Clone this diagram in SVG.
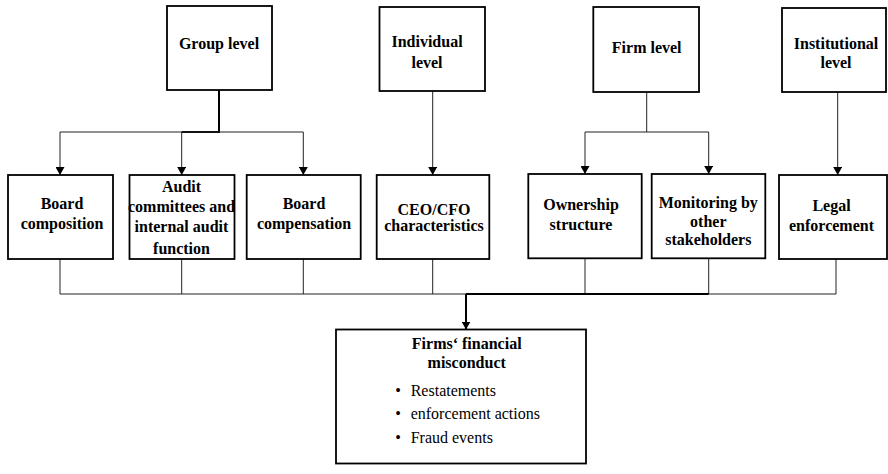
<svg xmlns="http://www.w3.org/2000/svg" width="888" height="474" viewBox="0 0 888 474">
<defs>
<style>
.t{font-family:'Liberation Serif','DejaVu Serif',serif;font-weight:bold;font-size:16px;text-anchor:middle;fill:#000}
.r{font-family:'Liberation Serif','DejaVu Serif',serif;font-size:16px;fill:#000}
.box{fill:#fff;stroke:#000;stroke-width:1.8}
.c{fill:none;stroke:#222;stroke-width:1}
.ck{fill:none;stroke:#000;stroke-width:2}
</style>
<marker id="arr" markerUnits="userSpaceOnUse" markerWidth="8" markerHeight="9" refX="8" refY="4.5" orient="auto">
<path d="M0,0 L8,4.5 L0,9 z" fill="#000"/>
</marker>
</defs>
<rect width="888" height="474" fill="#fff"/>

<g id="connectors">
<path class="ck" d="M219,90 V132 H181.7"/>
<path class="c" d="M60,132 H303.3"/>
<path class="c" d="M60,132 V175" marker-end="url(#arr)"/>
<path class="c" d="M181.7,132 V175" marker-end="url(#arr)"/>
<path class="c" d="M303.3,132 V175" marker-end="url(#arr)"/>
<path class="c" d="M432.7,91 V175" marker-end="url(#arr)"/>
<path class="c" d="M646.7,92 V132"/>
<path class="c" d="M585,132 H708.7"/>
<path class="c" d="M585,132 V174" marker-end="url(#arr)"/>
<path class="c" d="M708.7,132 V174" marker-end="url(#arr)"/>
<path class="c" d="M837.7,92 V175" marker-end="url(#arr)"/>
<path class="c" d="M60,259 V294 M181.7,259 V294 M303.3,259 V294 M432.7,259 V294 M585,258 V294 M708.7,258 V294 M836,259 V294"/>
<path class="c" d="M60,294 H836"/>
<path class="ck" d="M466,294 H708.7"/>
<path class="ck" d="M466,294 V329.5" marker-end="url(#arr)"/>
</g>

<g id="group-level">
<rect class="box" x="167" y="6" width="105" height="84"/>
<text class="t" x="219" y="49">Group level</text>
</g>
<g id="individual-level">
<rect class="box" x="379.5" y="7" width="105.5" height="84"/>
<text class="t" x="427" y="47">Individual</text>
<text class="t" x="427" y="68">level</text>
</g>
<g id="firm-level">
<rect class="box" x="593.3" y="7" width="105.7" height="85"/>
<text class="t" x="646.7" y="52.5">Firm level</text>
</g>
<g id="institutional-level">
<rect class="box" x="782" y="8" width="104" height="84"/>
<text class="t" x="836" y="49">Institutional</text>
<text class="t" x="836" y="67.5">level</text>
</g>

<g id="board-composition">
<rect class="box" x="8" y="175" width="105" height="84"/>
<text class="t" x="62" y="209.3">Board</text>
<text class="t" x="62" y="229">composition</text>
</g>
<g id="audit-committees">
<rect class="box" x="129.5" y="175" width="105" height="84"/>
<text class="t" x="181.5" y="191.7">Audit</text>
<text class="t" x="181.5" y="212.3">committees and</text>
<text class="t" x="181.5" y="231.7">internal audit</text>
<text class="t" x="181.5" y="254.3">function</text>
</g>
<g id="board-compensation">
<rect class="box" x="246.7" y="175" width="114" height="84"/>
<text class="t" x="304" y="209.3">Board</text>
<text class="t" x="304" y="229">compensation</text>
</g>
<g id="ceo-cfo">
<rect class="box" x="376.7" y="175" width="112.6" height="84"/>
<text class="t" x="434" y="214.5">CEO/CFO</text>
<text class="t" x="434" y="231">characteristics</text>
</g>
<g id="ownership-structure">
<rect class="box" x="528.3" y="174" width="113.4" height="84.3"/>
<text class="t" x="581" y="210">Ownership</text>
<text class="t" x="581" y="230">structure</text>
</g>
<g id="monitoring">
<rect class="box" x="651.7" y="174" width="113.6" height="84.3"/>
<text class="t" x="708.3" y="207.7">Monitoring by</text>
<text class="t" x="708.3" y="226.7">other</text>
<text class="t" x="708.3" y="245">stakeholders</text>
</g>
<g id="legal-enforcement">
<rect class="box" x="779" y="175" width="108" height="84"/>
<text class="t" x="831.5" y="211">Legal</text>
<text class="t" x="831.5" y="231">enforcement</text>
</g>

<g id="financial-misconduct">
<rect class="box" x="336" y="329.5" width="250" height="134"/>
<text class="t" x="466.7" y="349">Firms‘ financial</text>
<text class="t" x="466.7" y="367.5">misconduct</text>
<text class="r" x="398" y="396" text-anchor="middle">•</text>
<text class="r" x="410.7" y="396">Restatements</text>
<text class="r" x="398" y="419.3" text-anchor="middle">•</text>
<text class="r" x="410.7" y="419.3">enforcement actions</text>
<text class="r" x="398" y="442.7" text-anchor="middle">•</text>
<text class="r" x="410.7" y="442.7">Fraud events</text>
</g>
</svg>
